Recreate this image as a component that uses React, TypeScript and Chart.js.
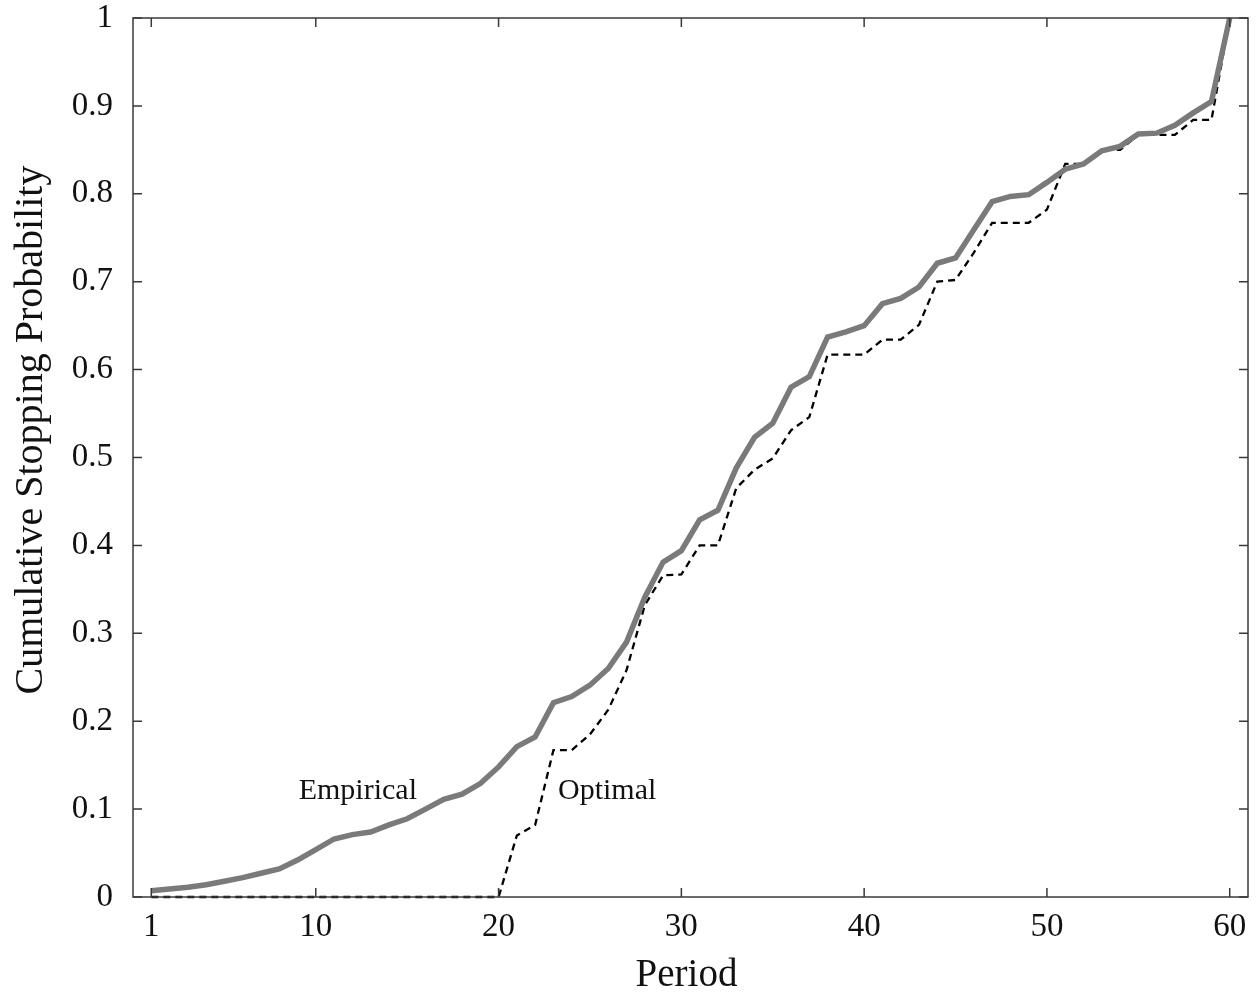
import React, { useEffect, useRef } from "react";
import { Chart, registerables } from "chart.js";

Chart.register(...registerables);

const periods: number[] = Array.from({ length: 60 }, (_, i) => i + 1);

const empirical: number[] = [
  0.007, 0.009, 0.011, 0.014, 0.018, 0.022, 0.027, 0.032, 0.042, 0.054,
  0.066, 0.071, 0.074, 0.082, 0.089, 0.100, 0.111, 0.117, 0.129, 0.148,
  0.171, 0.182, 0.221, 0.228, 0.241, 0.260, 0.290, 0.341, 0.381, 0.394,
  0.429, 0.440, 0.488, 0.523, 0.539, 0.580, 0.592, 0.637, 0.643, 0.650,
  0.675, 0.681, 0.694, 0.721, 0.727, 0.759, 0.791, 0.797, 0.799, 0.813,
  0.828, 0.834, 0.849, 0.854, 0.868, 0.869, 0.878, 0.892, 0.905, 1.0,
];

const optimal: number[] = [
  0, 0, 0, 0, 0, 0, 0, 0, 0, 0,
  0, 0, 0, 0, 0, 0, 0, 0, 0, 0,
  0.070, 0.082, 0.167, 0.167, 0.185, 0.213, 0.258, 0.332, 0.366, 0.367,
  0.400, 0.400, 0.465, 0.486, 0.499, 0.531, 0.546, 0.617, 0.617, 0.617,
  0.634, 0.634, 0.651, 0.700, 0.702, 0.733, 0.767, 0.767, 0.767, 0.782,
  0.834, 0.834, 0.850, 0.850, 0.867, 0.867, 0.867, 0.884, 0.884, 1.0,
];

const xTicks: number[] = [1, 10, 20, 30, 40, 50, 60];
const yTicks: number[] = [0, 0.1, 0.2, 0.3, 0.4, 0.5, 0.6, 0.7, 0.8, 0.9, 1];
const yTickLabels: string[] = ["0", "0.1", "0.2", "0.3", "0.4", "0.5", "0.6", "0.7", "0.8", "0.9", "1"];

const seriesLabels: string[] = ["Empirical", "Optimal"];
const xTitle = "Period";
const yTitle = "Cumulative Stopping Probability";

const SERIF = "'Liberation Serif', 'DejaVu Serif', serif";

const framePlugin = {
  id: "frameTicks",
  afterDraw(chart: any) {
    const { ctx, chartArea: a, scales } = chart;
    const xs = scales.x;
    const ys = scales.y;
    ctx.save();
    ctx.strokeStyle = "#3a3a3a";
    ctx.lineWidth = 1.5;
    ctx.strokeRect(a.left, a.top, a.right - a.left, a.bottom - a.top);
    const tl = 9;
    ctx.beginPath();
    xTicks.forEach((v) => {
      const px = xs.getPixelForValue(v);
      ctx.moveTo(px, a.bottom);
      ctx.lineTo(px, a.bottom - tl);
      ctx.moveTo(px, a.top);
      ctx.lineTo(px, a.top + tl);
    });
    yTicks.forEach((v) => {
      const py = ys.getPixelForValue(v);
      ctx.moveTo(a.left, py);
      ctx.lineTo(a.left + tl, py);
      ctx.moveTo(a.right, py);
      ctx.lineTo(a.right - tl, py);
    });
    ctx.stroke();

    // series annotations
    ctx.fillStyle = "#111";
    ctx.font = `30px ${SERIF}`;
    ctx.textBaseline = "alphabetic";
    ctx.textAlign = "center";
    ctx.fillText(seriesLabels[0], xs.getPixelForValue(12.3), ys.getPixelForValue(0.111));
    ctx.textAlign = "left";
    ctx.fillText(seriesLabels[1], xs.getPixelForValue(23.25), ys.getPixelForValue(0.111));

    // axis titles
    ctx.font = `39px ${SERIF}`;
    ctx.textAlign = "center";
    ctx.fillText(xTitle, (a.left + a.right) / 2 - 4, 986);
    ctx.translate(42, 430);
    ctx.rotate(-Math.PI / 2);
    ctx.font = `40px ${SERIF}`;
    ctx.fillText(yTitle, 0, 0);
    ctx.restore();
  },
};

export default function App() {
  const ref = useRef<HTMLCanvasElement | null>(null);

  useEffect(() => {
    document.body.style.margin = "0";
    const canvas = ref.current;
    if (!canvas) return;
    const chart = new Chart(canvas, {
      type: "line",
      data: {
        labels: periods,
        datasets: [
          {
            label: seriesLabels[0],
            data: periods.map((p, i) => ({ x: p, y: empirical[i] })),
            borderColor: "#7a7a7a",
            borderWidth: 5.5,
            pointRadius: 0,
            tension: 0,
            fill: false,
            clip: false as any,
          },
          {
            label: seriesLabels[1],
            data: periods.map((p, i) => ({ x: p, y: optimal[i] })),
            borderColor: "#000000",
            borderWidth: 2.3,
            borderDash: [7, 5],
            pointRadius: 0,
            tension: 0,
            fill: false,
            clip: false as any,
          },
        ],
      },
      options: {
        animation: false,
        responsive: false,
        maintainAspectRatio: false,
        layout: { padding: { top: 18, right: 12, left: 0, bottom: 0 } },
        plugins: {
          legend: { display: false },
          tooltip: { enabled: false },
        },
        scales: {
          x: {
            type: "linear",
            min: 0,
            max: 61,
            afterBuildTicks: (s: any) => {
              s.ticks = xTicks.map((v) => ({ value: v }));
            },
            afterFit: (s: any) => {
              s.height = 101;
              s.paddingLeft = 0;
              s.paddingRight = 0;
            },
            grid: { display: false },
            border: { display: false },
            ticks: {
              color: "#111",
              font: { family: SERIF, size: 33 },
              padding: 3,
              maxRotation: 0,
              autoSkip: false,
              callback: (v: any) => String(v),
            },
          },
          y: {
            type: "linear",
            min: 0,
            max: 1,
            afterBuildTicks: (s: any) => {
              s.ticks = yTicks.map((v) => ({ value: v }));
            },
            afterFit: (s: any) => {
              s.width = 133;
              s.paddingTop = 0;
              s.paddingBottom = 0;
            },
            grid: { display: false },
            border: { display: false },
            ticks: {
              color: "#111",
              font: { family: SERIF, size: 33 },
              padding: 12,
              autoSkip: false,
              callback: (_v: any, i: number) => yTickLabels[i],
            },
          },
        },
      },
      plugins: [framePlugin],
    });
    return () => chart.destroy();
  }, []);

  return (
    <div style={{ width: 1260, height: 998, background: "#fff" }}>
      <canvas ref={ref} width={1260} height={998} style={{ display: "block" }} />
    </div>
  );
}
